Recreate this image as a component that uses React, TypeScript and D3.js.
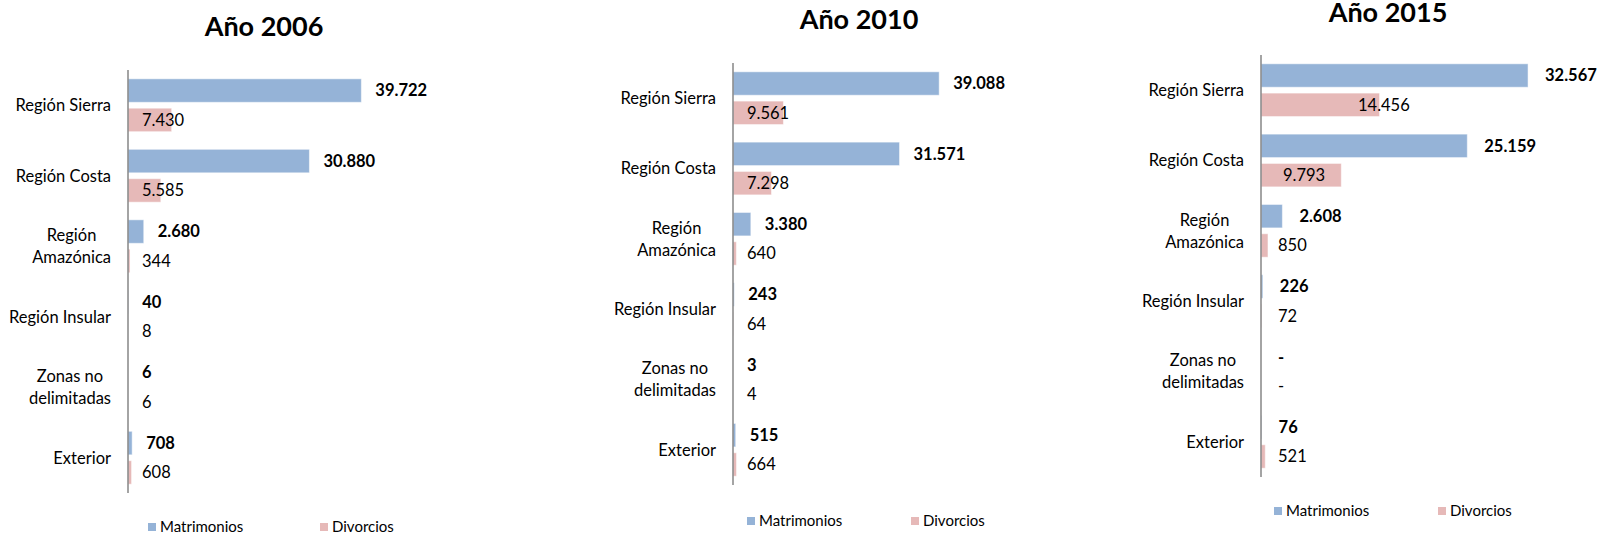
import * as d3 from "d3";

const categories = [
  "Región Sierra",
  "Región Costa",
  "Región Amazónica",
  "Región Insular",
  "Zonas no delimitadas",
  "Exterior",
];
const seriesNames = ["Matrimonios", "Divorcios"];
const seriesColors = ["#95b3d7", "#e6b9b8"];

const matrimonios2006 = [39722, 30880, 2680, 40, 6, 708];
const divorcios2006 = [7430, 5585, 344, 8, 6, 608];
const matrimonios2010 = [39088, 31571, 3380, 243, 3, 515];
const divorcios2010 = [9561, 7298, 640, 64, 4, 664];
const matrimonios2015 = [32567, 25159, 2608, 226, 0, 76];
const divorcios2015 = [14456, 9793, 850, 72, 0, 521];

const FONT = "Lato, 'Open Sans', sans-serif";
const LABEL_SIZE = 16.5;

// layout of each of the three small charts
const panels = [
  {
    title: "Año 2006",
    series: [matrimonios2006, divorcios2006],
    axisX: 128, top: 70, bottom: 493, xMax: 40000, xLen: 235,
    titleX: 264, titleY: 36, legendY: 527, legendX: [148, 320], gap: 14,
    nudge: {} as Record<string, number>,
  },
  {
    title: "Año 2010",
    series: [matrimonios2010, divorcios2010],
    axisX: 733, top: 63, bottom: 485, xMax: 40000, xLen: 211,
    titleX: 859, titleY: 29, legendY: 521, legendX: [747, 911], gap: 14,
    nudge: {} as Record<string, number>,
  },
  {
    title: "Año 2015",
    series: [matrimonios2015, divorcios2015],
    axisX: 1261, top: 55, bottom: 477, xMax: 35000, xLen: 287,
    titleX: 1388, titleY: 22, legendY: 511, legendX: [1274, 1438], gap: 17,
    // labels that were dragged by hand in the original
    nudge: { "Región Sierra": 80, "Región Costa": 5 } as Record<string, number>,
  },
];

const locale = d3.formatLocale({ decimal: ",", thousands: ".", grouping: [3], currency: ["$", ""] });
const fmtInt = locale.format(",d");
const fmt = (v: number) => (v === 0 ? "-" : fmtInt(v));

const ctx = document.createElement("canvas").getContext("2d")!;
const measure = (s: string, size = LABEL_SIZE) => {
  ctx.font = `${size}px Lato`;
  return ctx.measureText(s).width;
};

// greedy word wrap like excel axis labels
const wrap = (label: string, maxW: number) => {
  const words = label.split(" ");
  const lines: string[] = [];
  let cur = "";
  words.forEach((w) => {
    const t = cur ? cur + " " + w : w;
    if (cur && measure(t) > maxW) {
      lines.push(cur);
      cur = w;
    } else cur = t;
  });
  lines.push(cur);
  return lines;
};

const Panel = ({ p }: { p: (typeof panels)[number] }) => {
  const y = d3.scaleBand<string>().domain(categories).range([p.top, p.bottom]).paddingInner(0.25).paddingOuter(0.125);
  const ySub = d3.scaleBand<string>().domain(seriesNames).range([0, y.bandwidth()]).paddingInner(0.2);
  const x = d3.scaleLinear().domain([0, p.xMax]).range([p.axisX, p.axisX + p.xLen]);

  return (
    <g>
      <text x={p.titleX} y={p.titleY} textAnchor="middle" fontFamily={FONT} fontWeight="bold" fontSize={27} fill="#000">
        {p.title}
      </text>

      {categories.map((c) => {
        const lines = wrap(c, 115);
        const cy = (y(c) ?? 0) + y.bandwidth() / 2;
        const right = p.axisX - 17;
        const maxW = d3.max(lines, (l) => measure(l)) ?? 0;
        const lh = 22;
        return (
          <g key={c}>
            {lines.map((l, i) => (
              <text
                key={i}
                x={lines.length > 1 ? right - maxW / 2 : right}
                y={cy + (i - (lines.length - 1) / 2) * lh}
                dy="0.35em"
                textAnchor={lines.length > 1 ? "middle" : "end"}
                fontFamily={FONT}
                fontSize={LABEL_SIZE}
                fill="#000"
              >
                {l}
              </text>
            ))}
            {seriesNames.map((s, si) => {
              const v = p.series[si][categories.indexOf(c)];
              const by = (y(c) ?? 0) + (ySub(s) ?? 0);
              const w = x(v) - x(0);
              const lx = si === 0 ? x(v) + p.gap : p.axisX + p.gap + (p.nudge[c] ?? 0);
              return (
                <g key={s}>
                  {w > 0 && (
                    <rect x={x(0)} y={by} width={w} height={ySub.bandwidth()} fill={seriesColors[si]} stroke="#ffffff" strokeOpacity={0.5} strokeWidth={1} />
                  )}
                  <text
                    x={lx}
                    y={by + ySub.bandwidth() / 2}
                    dy="0.35em"
                    fontFamily={FONT}
                    fontSize={LABEL_SIZE}
                    fontWeight={si === 0 ? "bold" : "normal"}
                    fill="#000"
                  >
                    {fmt(v)}
                  </text>
                </g>
              );
            })}
          </g>
        );
      })}

      <line x1={p.axisX} x2={p.axisX} y1={p.top} y2={p.bottom} stroke="#868686" strokeWidth={1.5} />

      {seriesNames.map((s, i) => (
        <g key={s} transform={`translate(${p.legendX[i]},${p.legendY})`}>
          <rect x={0} y={-4} width={8} height={8} fill={seriesColors[i]} />
          <text x={12} y={0} dy="0.35em" fontFamily={FONT} fontSize={15} fill="#000">
            {s}
          </text>
        </g>
      ))}
    </g>
  );
};

export default function App() {
  return (
    <div style={{ position: "absolute", left: 0, top: 0 }}>
      <svg width={1597} height={534} style={{ display: "block", background: "#fff" }}>
        {panels.map((p) => (
          <Panel key={p.title} p={p} />
        ))}
      </svg>
    </div>
  );
}
